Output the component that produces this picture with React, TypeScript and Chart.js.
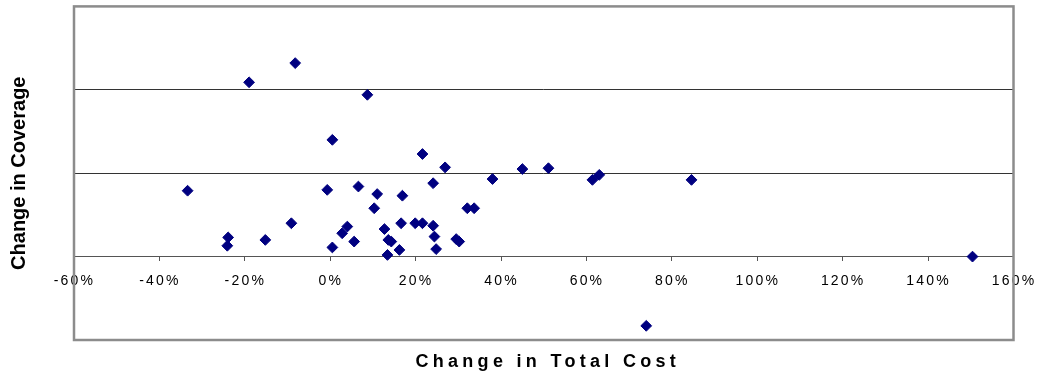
import React, { useEffect, useRef } from "react";
import { Chart, registerables } from "chart.js";

Chart.register(...registerables);

// Change in Total Cost (%)
const costChange: number[] = [
  -19.0, -8.2, 8.7, 0.5, -33.4, -0.7, 6.6, 11.0, 16.9, 21.6, 26.9, 24.1,
  38.0, 45.0, 51.1, 61.4, 63.0, 84.6, 10.3, -9.1, -15.2, -23.9, -24.1, 0.5,
  2.8, 4.0, 5.6, 12.7, 13.6, 14.3, 16.6, 16.2, 13.4, 19.9, 21.6, 24.1, 24.4,
  24.8, 29.5, 30.2, 32.1, 33.7, 150.4, 74.0,
];

// Change in Coverage (arbitrary units, gridline step 10)
const coverageChange: number[] = [
  20.9, 23.2, 19.4, 14.0, 7.9, 8.0, 8.4, 7.5, 7.3, 12.3, 10.7, 8.8,
  9.3, 10.5, 10.6, 9.2, 9.8, 9.2, 5.8, 4.0, 2.0, 2.3, 1.3, 1.1,
  2.8, 3.6, 1.8, 3.3, 2.0, 1.8, 4.0, 0.8, 0.2, 4.0, 4.0, 3.7, 2.4,
  0.9, 2.1, 1.8, 5.8, 5.8, 0.0, -8.3,
];

const xTickValues: number[] = [-60, -40, -20, 0, 20, 40, 60, 80, 100, 120, 140, 160];
const yGridValues: number[] = [-10, 0, 10, 20, 30];

const X_TITLE = "Change in Total Cost";
const Y_TITLE = "Change in Coverage";

const FONT = 'Arial, "Liberation Sans", sans-serif';

const noEdgePadding = (s: any) => {
  s.paddingLeft = 0;
  s.paddingRight = 0;
  s.paddingTop = 0;
  s.paddingBottom = 0;
};

export default function App() {
  const canvasRef = useRef<HTMLCanvasElement | null>(null);

  useEffect(() => {
    const canvas = canvasRef.current;
    if (!canvas) return;
    const ctx = canvas.getContext("2d") as any;
    const origFill = ctx.fillText;
    ctx.fillText = function (text: string, x: number, y: number, mw?: number) {
      const prev = this.letterSpacing;
      const t = String(text);
      let dx = 0;
      if (t === X_TITLE) {
        this.letterSpacing = "4.3px";
        dx = 4;
      } else if (t === Y_TITLE) {
        this.letterSpacing = "0px";
      } else {
        this.letterSpacing = "2.2px";
        dx = 0.5;
      }
      if (mw === undefined) origFill.call(this, text, x + dx, y);
      else origFill.call(this, text, x + dx, y, mw);
      this.letterSpacing = prev;
    };

    const boxPlugin = {
      id: "plotBox",
      beforeDatasetsDraw(chart: any) {
        const { ctx: c, chartArea: a } = chart;
        c.save();
        c.strokeStyle = "#8c8c8c";
        c.lineWidth = 2.5;
        c.strokeRect(a.left, a.top, a.right - a.left, a.bottom - a.top);
        c.restore();
      },
    };

    const points = costChange.map((x, i) => ({ x, y: coverageChange[i] }));

    const chart = new Chart(canvas, {
      type: "scatter",
      data: {
        datasets: [
          {
            data: points,
            pointStyle: "rectRot",
            pointRadius: 5.4,
            pointHoverRadius: 5.4,
            backgroundColor: "#000080",
            borderColor: "#000080",
            borderWidth: 1,
          },
        ],
      },
      options: {
        responsive: false,
        animation: false,
        events: [],
        layout: { padding: { left: 7, right: 26.5, top: 6, bottom: 0 } },
        plugins: { legend: { display: false }, tooltip: { enabled: false } },
        scales: {
          x: {
            type: "linear",
            position: { y: 0 } as any,
            min: -60,
            max: 160,
            afterFit: noEdgePadding,
            afterBuildTicks: (scale: any) => {
              scale.ticks = xTickValues.map((v) => ({ value: v }));
            },
            ticks: {
              callback: (v: any) => `${v}%`,
              color: "#000",
              font: { family: FONT, size: 14 },
              padding: 12,
              maxRotation: 0,
              autoSkip: false,
            },
            grid: {
              drawOnChartArea: false,
              drawTicks: true,
              tickLength: 4,
              color: "#555",
            },
            border: { display: true, color: "#555", width: 1 },
          },
          x2: {
            type: "linear",
            position: "bottom",
            min: -60,
            max: 160,
            afterFit: noEdgePadding,
            ticks: { display: false, padding: 0 },
            grid: { display: false, drawTicks: false },
            border: { display: false },
            title: {
              display: true,
              text: X_TITLE,
              color: "#000",
              font: { family: FONT, size: 18, weight: "bold" },
              padding: { top: 11.2, bottom: 4.2 },
            },
          },
          y: {
            type: "linear",
            position: "left",
            min: -10,
            max: 30,
            afterFit: noEdgePadding,
            afterBuildTicks: (scale: any) => {
              scale.ticks = yGridValues.map((v) => ({ value: v }));
            },
            ticks: { display: false },
            grid: {
              drawTicks: false,
              color: (c: any) =>
                c.tick && (c.tick.value === 10 || c.tick.value === 20)
                  ? "#333"
                  : "rgba(0,0,0,0)",
              lineWidth: 1,
            },
            border: { display: false },
            title: {
              display: true,
              text: Y_TITLE,
              color: "#000",
              font: { family: FONT, size: 20, weight: "bold" },
              padding: { top: 0, bottom: 43 },
            },
          },
        },
      },
      plugins: [boxPlugin],
    });

    return () => {
      chart.destroy();
      ctx.fillText = origFill;
    };
  }, []);

  return (
    <div style={{ position: "absolute", left: 0, top: 0, width: 1040, height: 377, background: "#fff" }}>
      <canvas ref={canvasRef} width={1040} height={377} style={{ display: "block" }} />
    </div>
  );
}
